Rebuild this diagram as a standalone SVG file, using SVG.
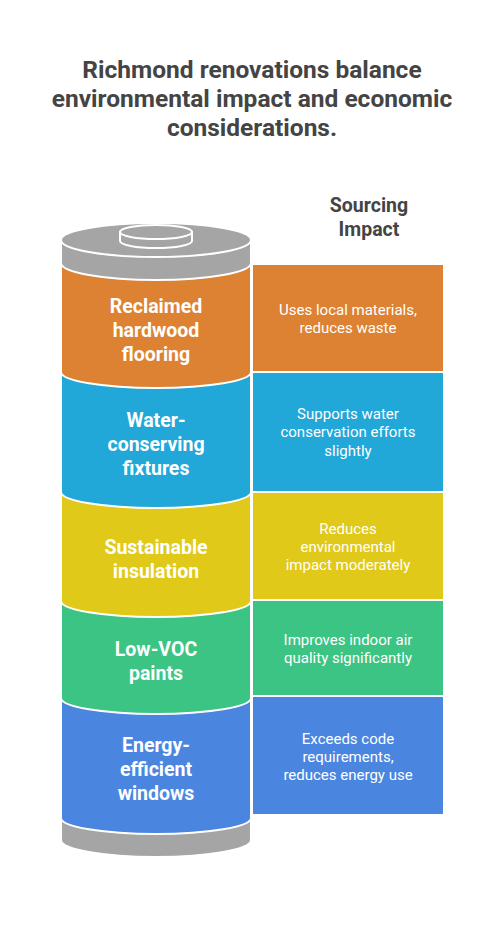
<svg xmlns="http://www.w3.org/2000/svg" width="504" height="930" viewBox="0 0 504 930">
<style>
.title{font-family:Roboto,"Liberation Sans",sans-serif;font-weight:700;font-size:24.5px;fill:#444444;text-anchor:middle}
.head{font-family:Roboto,"Liberation Sans",sans-serif;font-weight:700;font-size:19.5px;fill:#444444;text-anchor:middle}
.lab{font-family:Roboto,"Liberation Sans",sans-serif;font-weight:700;font-size:19.5px;fill:#ffffff;text-anchor:middle}
.desc{font-family:Roboto,"Liberation Sans",sans-serif;font-size:15px;fill:#ffffff;text-anchor:middle}
.sec{stroke:#ffffff;stroke-width:2}
.box{stroke:none}
</style>
<rect width="504" height="930" fill="#ffffff"/>
<g id="title">
<text class="title" x="252" y="78">Richmond renovations balance</text>
<text class="title" x="252" y="107">environmental impact and economic</text>
<text class="title" x="252" y="136">considerations.</text>
</g>
<g id="header">
<text class="head" x="369" y="212">Sourcing</text>
<text class="head" x="369" y="236">Impact</text>
</g>
<g id="cylinder-base">
<path class="sec" fill="#A5A5A5" d="M61,818 L61,840 A95,17 0 0 0 251,840 L251,818 Z"/>
</g>
<g id="node-energy-windows">
<path class="sec" fill="#4A86E0" d="M61,698 L61,818 A95,16 0 0 0 251,818 L251,698 Z"/>
<text class="lab" x="156" y="752">Energy-</text>
<text class="lab" x="156" y="776">efficient</text>
<text class="lab" x="156" y="800">windows</text>
<rect class="box" x="253" y="697" width="190" height="117" fill="#4A86E0"/>
<text class="desc" x="348" y="744">Exceeds code</text>
<text class="desc" x="348" y="762">requirements,</text>
<text class="desc" x="348" y="780">reduces energy use</text>
</g>
<g id="node-low-voc">
<path class="sec" fill="#3CC484" d="M61,601 L61,698 A95,16 0 0 0 251,698 L251,601 Z"/>
<text class="lab" x="156" y="656">Low-VOC</text>
<text class="lab" x="156" y="680">paints</text>
<rect class="box" x="253" y="601" width="190" height="94" fill="#3CC484"/>
<text class="desc" x="348" y="645">Improves indoor air</text>
<text class="desc" x="348" y="663">quality significantly</text>
</g>
<g id="node-insulation">
<path class="sec" fill="#E0C918" d="M61,492 L61,601 A95,16 0 0 0 251,601 L251,492 Z"/>
<text class="lab" x="156" y="554">Sustainable</text>
<text class="lab" x="156" y="578">insulation</text>
<rect class="box" x="253" y="493" width="190" height="106" fill="#E0C918"/>
<text class="desc" x="348" y="534">Reduces</text>
<text class="desc" x="348" y="552">environmental</text>
<text class="desc" x="348" y="570">impact moderately</text>
</g>
<g id="node-water-fixtures">
<path class="sec" fill="#22A7D9" d="M61,372 L61,492 A95,16 0 0 0 251,492 L251,372 Z"/>
<text class="lab" x="156" y="427">Water-</text>
<text class="lab" x="156" y="451">conserving</text>
<text class="lab" x="156" y="475">fixtures</text>
<rect class="box" x="253" y="373" width="190" height="118" fill="#22A7D9"/>
<text class="desc" x="348" y="419">Supports water</text>
<text class="desc" x="348" y="437">conservation efforts</text>
<text class="desc" x="348" y="456">slightly</text>
</g>
<g id="node-reclaimed-flooring">
<path class="sec" fill="#DD8232" d="M61,263 L61,372 A95,16 0 0 0 251,372 L251,263 Z"/>
<text class="lab" x="156" y="313">Reclaimed</text>
<text class="lab" x="156" y="337">hardwood</text>
<text class="lab" x="156" y="361">flooring</text>
<rect class="box" x="253" y="265" width="190" height="106" fill="#DD8232"/>
<text class="desc" x="348" y="315">Uses local materials,</text>
<text class="desc" x="348" y="333">reduces waste</text>
</g>
<g id="cylinder-cap">
<path class="sec" fill="#A5A5A5" d="M61,240 L61,263 A95,17 0 0 0 251,263 L251,240 Z"/>
<ellipse class="sec" fill="#A5A5A5" cx="156" cy="240" rx="95" ry="17"/>
<path class="sec" fill="#A5A5A5" d="M120,232 L120,241 A36,7 0 0 0 192,241 L192,232 Z"/>
<ellipse class="sec" fill="#A5A5A5" cx="156" cy="232" rx="36" ry="7"/>
</g>
</svg>
